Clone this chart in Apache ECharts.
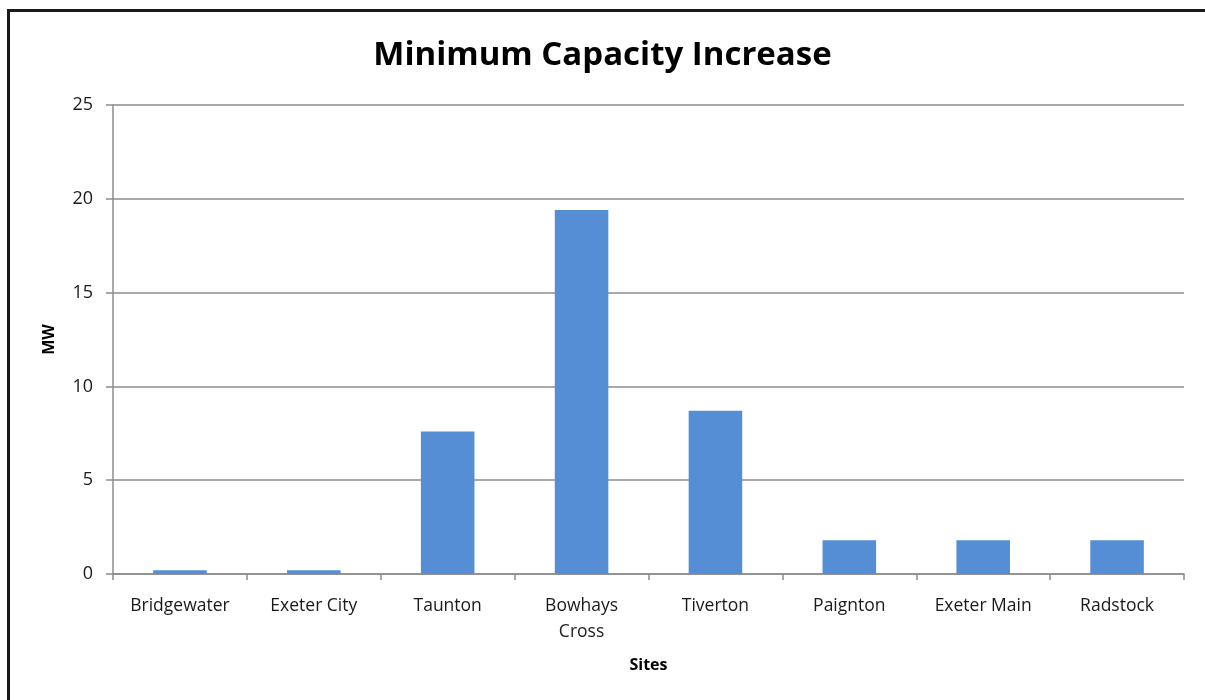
<!DOCTYPE html>
<html lang="en">
<head>
<meta charset="utf-8">
<script src="https://cdn.jsdelivr.net/npm/echarts@6/dist/echarts.min.js"></script>
<style>
    html, body {
        margin: 0;
        padding: 0;
        background: #fff;
        overflow: hidden;
    }
    #frame {
        position: absolute;
        left: 7px;
        top: 9px;
        width: 1400px;
        height: 900px;
        border: 3px solid #1a1a1a;
    }
    #main {
        position: absolute;
        left: 0;
        top: 0;
        width: 1205px;
        height: 700px;
    }
</style>
</head>
<body>
<div id="frame"></div>
<div id="main"></div>
<script>
    var sites = ['Bridgewater', 'Exeter City', 'Taunton', 'Bowhays\nCross', 'Tiverton', 'Paignton', 'Exeter Main', 'Radstock'];
    var capacity = [0.2, 0.2, 7.6, 19.4, 8.7, 1.8, 1.8, 1.8];
    var yTicks = [0, 5, 10, 15, 20, 25];

    var font = 'Open Sans, Noto Sans, sans-serif';

    var option = {
        animation: false,
        title: {
            text: 'Minimum Capacity Increase',
            left: 'center',
            top: 34,
            textStyle: {
                fontFamily: font,
                fontSize: 33,
                fontWeight: 'bold',
                color: '#000'
            }
        },
        grid: {
            left: 113,
            right: 21,
            top: 105,
            bottom: 126
        },
        xAxis: {
            type: 'category',
            data: sites,
            name: 'Sites',
            nameLocation: 'middle',
            nameGap: 83,
            nameTextStyle: {
                fontFamily: font,
                fontSize: 16,
                fontWeight: 'bold',
                color: '#000'
            },
            axisLine: { lineStyle: { color: '#8c8c8c', width: 1.5 } },
            axisTick: { show: true, length: 6, lineStyle: { color: '#8c8c8c', width: 1.5 } },
            axisLabel: {
                interval: 0,
                margin: 19,
                fontFamily: font,
                fontSize: 17.5,
                lineHeight: 26,
                color: '#1a1a1a'
            }
        },
        yAxis: {
            type: 'value',
            min: yTicks[0],
            max: yTicks[yTicks.length - 1],
            interval: 5,
            name: 'MW',
            nameLocation: 'middle',
            nameGap: 56,
            nameTextStyle: {
                fontFamily: font,
                fontSize: 16,
                fontWeight: 'bold',
                color: '#000'
            },
            axisLine: { show: true, lineStyle: { color: '#8c8c8c', width: 1.5 } },
            axisTick: { show: true, length: 7, lineStyle: { color: '#8c8c8c', width: 1.5 } },
            splitLine: { lineStyle: { color: '#8c8c8c', width: 1.5 } },
            axisLabel: {
                margin: 20,
                fontFamily: font,
                fontSize: 18,
                color: '#1a1a1a'
            }
        },
        series: [{
            type: 'bar',
            data: capacity,
            barCategoryGap: '60%',
            itemStyle: { color: '#558ed5' }
        }]
    };

    var myChart = echarts.init(document.getElementById('main'));
    myChart.setOption(option);
</script>
</body>
</html>
